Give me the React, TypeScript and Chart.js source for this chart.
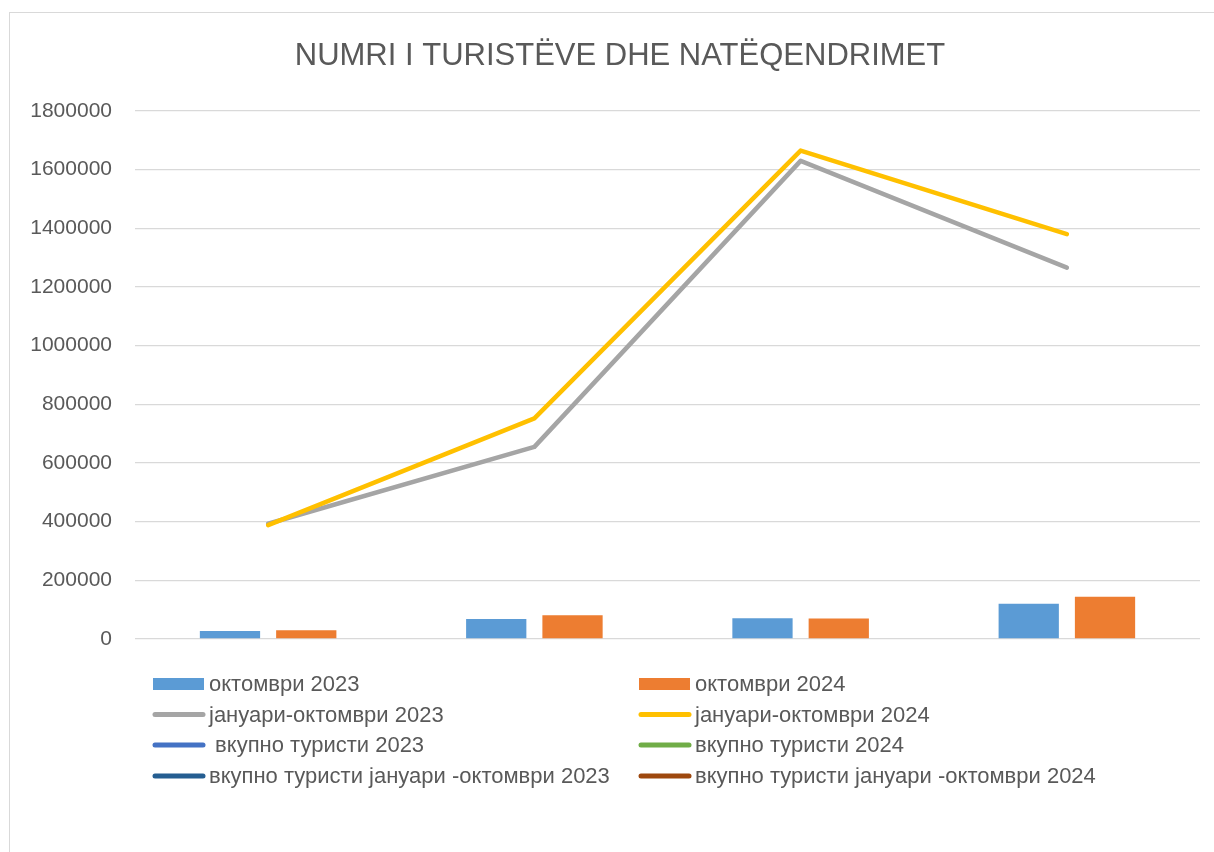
import React, { useEffect, useRef } from "react";
import { Chart, registerables } from "chart.js";

Chart.register(...registerables);

const TITLE = "NUMRI I TURISTËVE DHE NATËQENDRIMET";
const categories = ["", "", "", ""];
const oct2023 = [27000, 68000, 71000, 120000];
const oct2024 = [30000, 81000, 70000, 144000];
const janOct2023 = [393000, 655000, 1630000, 1266000];
const janOct2024 = [388000, 752000, 1665000, 1380000];
const yTicks = [0, 200000, 400000, 600000, 800000, 1000000, 1200000, 1400000, 1600000, 1800000];

const seriesLabels = [
  "октомври 2023",
  "октомври 2024",
  "јануари-октомври 2023",
  "јануари-октомври 2024",
  " вкупно туристи 2023",
  "вкупно туристи 2024",
  "вкупно туристи јануари -октомври 2023",
  "вкупно туристи јануари -октомври 2024",
];
const seriesColors = ["#5B9BD5", "#ED7D31", "#A5A5A5", "#FFC000", "#4472C4", "#70AD47", "#255E91", "#9E480E"];

const FONT = "'Liberation Sans', Arial, sans-serif";
const TEXT = "#595959";

const W = 1204;
const H = 839;

const customPlugin = {
  id: "customDecor",
  afterDraw(chart: any) {
    const ctx = chart.ctx;
    ctx.save();
    // title
    ctx.fillStyle = TEXT;
    ctx.font = `31px ${FONT}`;
    ctx.textAlign = "center";
    ctx.textBaseline = "alphabetic";
    ctx.fillText(TITLE, 610, 52);
    // legend
    const rowsY = [671, 701.5, 732, 763];
    const colX = [142, 628];
    ctx.font = `22px ${FONT}`;
    ctx.textAlign = "left";
    ctx.textBaseline = "middle";
    chart.data.datasets.forEach((ds: any, i: number) => {
      const x0 = colX[i % 2];
      const y = rowsY[Math.floor(i / 2)];
      const color = seriesColors[i];
      if (ds.type === "bar") {
        ctx.fillStyle = color;
        ctx.fillRect(x0 + 1, y - 6, 51, 12);
      } else {
        ctx.strokeStyle = color;
        ctx.lineWidth = 5;
        ctx.lineCap = "round";
        ctx.beginPath();
        ctx.moveTo(x0 + 3, y);
        ctx.lineTo(x0 + 51, y);
        ctx.stroke();
      }
      ctx.fillStyle = TEXT;
      ctx.fillText(ds.label, x0 + 57, y + 1);
    });
    ctx.restore();
  },
};

export default function App() {
  const ref = useRef<HTMLCanvasElement | null>(null);
  useEffect(() => {
    if (!ref.current) return;
    const chart = new Chart(ref.current, {
      type: "bar",
      data: {
        labels: categories,
        datasets: [
          { type: "bar", label: seriesLabels[0], data: oct2023, backgroundColor: seriesColors[0], order: 5, categoryPercentage: 0.573, barPercentage: 0.79 } as any,
          { type: "bar", label: seriesLabels[1], data: oct2024, backgroundColor: seriesColors[1], order: 6, categoryPercentage: 0.573, barPercentage: 0.79 } as any,
          { type: "line", label: seriesLabels[2], data: janOct2023, borderColor: seriesColors[2], backgroundColor: seriesColors[2], borderWidth: 4.5, pointRadius: 0, tension: 0, borderCapStyle: "round", borderJoinStyle: "round", order: 2 } as any,
          { type: "line", label: seriesLabels[3], data: janOct2024, borderColor: seriesColors[3], backgroundColor: seriesColors[3], borderWidth: 4.5, pointRadius: 0, tension: 0, borderCapStyle: "round", borderJoinStyle: "round", order: 1 } as any,
          { type: "line", label: seriesLabels[4], data: [], borderColor: seriesColors[4], pointRadius: 0, order: 3 } as any,
          { type: "line", label: seriesLabels[5], data: [], borderColor: seriesColors[5], pointRadius: 0, order: 3 } as any,
          { type: "line", label: seriesLabels[6], data: [], borderColor: seriesColors[6], pointRadius: 0, order: 3 } as any,
          { type: "line", label: seriesLabels[7], data: [], borderColor: seriesColors[7], pointRadius: 0, order: 3 } as any,
        ],
      },
      options: {
        animation: false,
        responsive: false,
        layout: { padding: { top: 98, right: 14, bottom: 205, left: 0 } },
        plugins: {
          legend: { display: false },
          title: { display: false },
          tooltip: { enabled: false },
        },
        scales: {
          x: {
            ticks: { display: false },
            grid: { display: false },
            border: { display: false },
          },
          y: {
            min: 0,
            max: 1800000,
            afterFit(scale: any) {
              scale.width = 125;
            },
            afterBuildTicks(scale: any) {
              scale.ticks = yTicks.map((v) => ({ value: v }));
            },
            ticks: {
              color: TEXT,
              font: { family: FONT, size: 21 },
              padding: 23,
              callback: (v: any) => String(v),
            },
            grid: { color: "#D9D9D9", lineWidth: 1.3, drawTicks: false },
            border: { display: false },
          },
        },
      },
      plugins: [customPlugin],
    } as any);
    return () => chart.destroy();
  }, []);

  return (
    <div style={{ position: "fixed", inset: 0, overflow: "hidden", background: "#fff" }}>
      <div
        style={{
          position: "absolute",
          left: 9,
          top: 12,
          width: 1220,
          height: 860,
          border: "1px solid #D9D9D9",
          boxSizing: "border-box",
        }}
      />
      <canvas
        ref={ref}
        width={W}
        height={H}
        style={{ position: "absolute", left: 10, top: 13, width: W, height: H }}
      />
    </div>
  );
}
